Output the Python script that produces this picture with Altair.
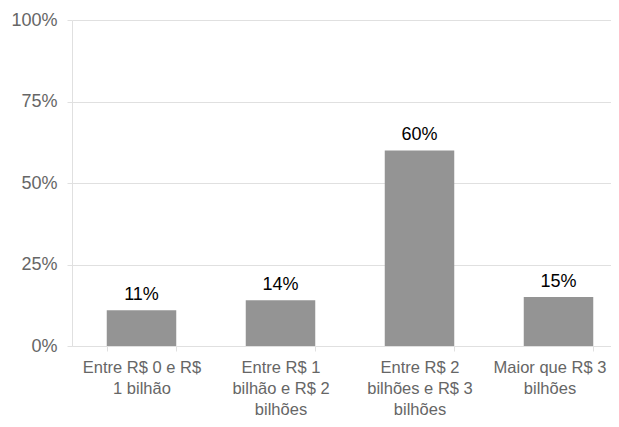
import json
import altair as alt
import pandas as pd

categories = [
    "Entre R$ 0 e R$ 1 bilhão",
    "Entre R$ 1 bilhão e R$ 2 bilhões",
    "Entre R$ 2 bilhões e R$ 3 bilhões",
    "Maior que R$ 3 bilhões",
]
label_lines = [
    ["Entre R$ 0 e R$", "1 bilhão"],
    ["Entre R$ 1", "bilhão e R$ 2", "bilhões"],
    ["Entre R$ 2", "bilhões e R$ 3", "bilhões"],
    ["Maior que R$ 3", "bilhões"],
]
values = [0.11, 0.14, 0.60, 0.15]
y_ticks = [0, 0.25, 0.5, 0.75, 1.0]

df = pd.DataFrame({"cat": categories, "val": values})
mapping = json.dumps(dict(zip(categories, label_lines)), ensure_ascii=False)

FONT = "Liberation Sans"
GRID = "#e0e0e0"

x = alt.X(
    "cat:N",
    sort=categories,
    title=None,
    scale=alt.Scale(range=[0, 556], paddingInner=0.5, paddingOuter=0.25),
    axis=alt.Axis(
        labelExpr=f"{mapping}[datum.value]",
        labelAngle=0,
        labelFont=FONT,
        labelFontSize=16.5,
        labelColor="#666666",
        labelLineHeight=21,
        labelPadding=8,
        labelLimit=200,
        labelOffset=alt.ExprRef("datum.index == 1 ? -9 : 0"),
        tickBand="extent",
        tickColor=GRID,
        tickSize=5,
        domainColor=GRID,
        grid=False,
    ),
)

bars = alt.Chart(df).mark_bar(color="#949494").encode(
    x=x,
    y=alt.Y(
        "val:Q",
        title=None,
        scale=alt.Scale(domain=[0, 1]),
        axis=alt.Axis(
            values=y_ticks,
            format=".0%",
            labelFont=FONT,
            labelFontSize=18,
            labelColor="#666666",
            labelPadding=10,
            tickColor=GRID,
            tickSize=5,
            gridColor=GRID,
            domainColor=GRID,
        ),
    ),
)

text = alt.Chart(df).mark_text(
    baseline="bottom", dy=-6, font=FONT, fontSize=18, color="#000000"
).encode(
    x=alt.X("cat:N", sort=categories),
    y="val:Q",
    text=alt.Text("val:Q", format=".0%"),
)

chart = (
    alt.layer(bars, text)
    .properties(
        width=539,
        height=326,
        autosize=alt.AutoSizeParams(type="none"),
        padding={"left": 64, "top": 12, "right": 0, "bottom": 72},
        background="white",
    )
    .configure_view(stroke=None)
)

chart.save("out.html", embed_options={"renderer": "svg", "actions": False})
